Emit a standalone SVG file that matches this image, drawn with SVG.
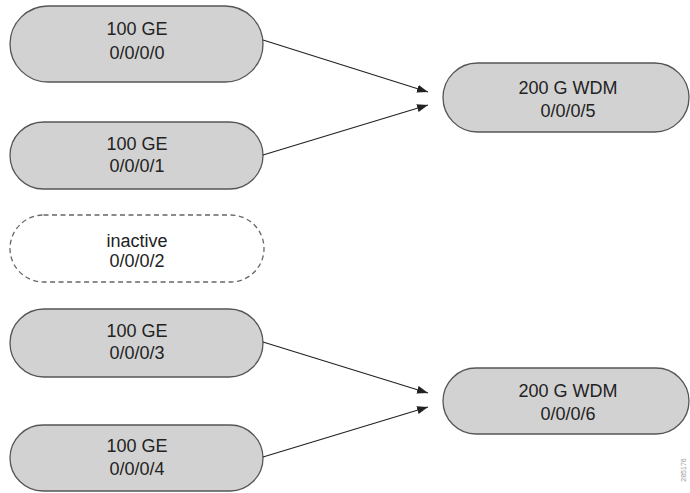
<svg xmlns="http://www.w3.org/2000/svg" width="690" height="493" viewBox="0 0 690 493">
<style>
.n{fill:#d2d2d2;stroke:#555;stroke-width:1.3}
.d{fill:#fff;stroke:#666;stroke-width:1.3;stroke-dasharray:5,3.5}
.t{font-family:"Liberation Sans",Arial,sans-serif;font-size:18px;fill:#222;text-anchor:middle}
.c{stroke:#222;stroke-width:1.1;fill:none;marker-end:url(#ah)}
</style>
<defs>
<marker id="ah" markerUnits="userSpaceOnUse" markerWidth="12" markerHeight="8" refX="11" refY="4" orient="auto">
<path d="M0,0 L11,4 L0,8 Z" fill="#222"/>
</marker>
</defs>
<rect width="690" height="493" fill="#fff"/>
<g id="n0"><rect class="n" x="10" y="6" width="253" height="76" rx="38"/><text class="t" x="137" y="34.5">100 GE</text><text class="t" x="137" y="58.5">0/0/0/0</text></g>
<g id="n1"><rect class="n" x="10" y="122" width="253" height="67" rx="33.5"/><text class="t" x="137" y="149.5">100 GE</text><text class="t" x="137" y="171.5">0/0/0/1</text></g>
<g id="n2"><rect class="d" x="10" y="215" width="254" height="67" rx="33.5"/><text class="t" x="137" y="246.5">inactive</text><text class="t" x="137" y="266.5">0/0/0/2</text></g>
<g id="n3"><rect class="n" x="10" y="309" width="253" height="68" rx="34"/><text class="t" x="137" y="336.5">100 GE</text><text class="t" x="137" y="358.5">0/0/0/3</text></g>
<g id="n4"><rect class="n" x="10" y="425" width="253" height="66" rx="33"/><text class="t" x="137" y="451.5">100 GE</text><text class="t" x="137" y="474.5">0/0/0/4</text></g>
<g id="n5"><rect class="n" x="443" y="63" width="246" height="69" rx="34.5"/><text class="t" x="568" y="93.5">200 G WDM</text><text class="t" x="568" y="116.5">0/0/0/5</text></g>
<g id="n6"><rect class="n" x="443" y="368" width="246" height="66" rx="33"/><text class="t" x="568" y="396.5">200 G WDM</text><text class="t" x="568" y="419.5">0/0/0/6</text></g>
<g id="connectors">
<line class="c" x1="263" y1="40" x2="428" y2="92"/>
<line class="c" x1="263" y1="155" x2="428" y2="105"/>
<line class="c" x1="263" y1="342" x2="428" y2="393"/>
<line class="c" x1="263" y1="457" x2="428" y2="407"/>
</g>
<text x="686" y="470" font-family="Liberation Sans,Arial,sans-serif" font-size="7" fill="#999" text-anchor="middle" transform="rotate(-90 686 470)">285176</text>
</svg>
